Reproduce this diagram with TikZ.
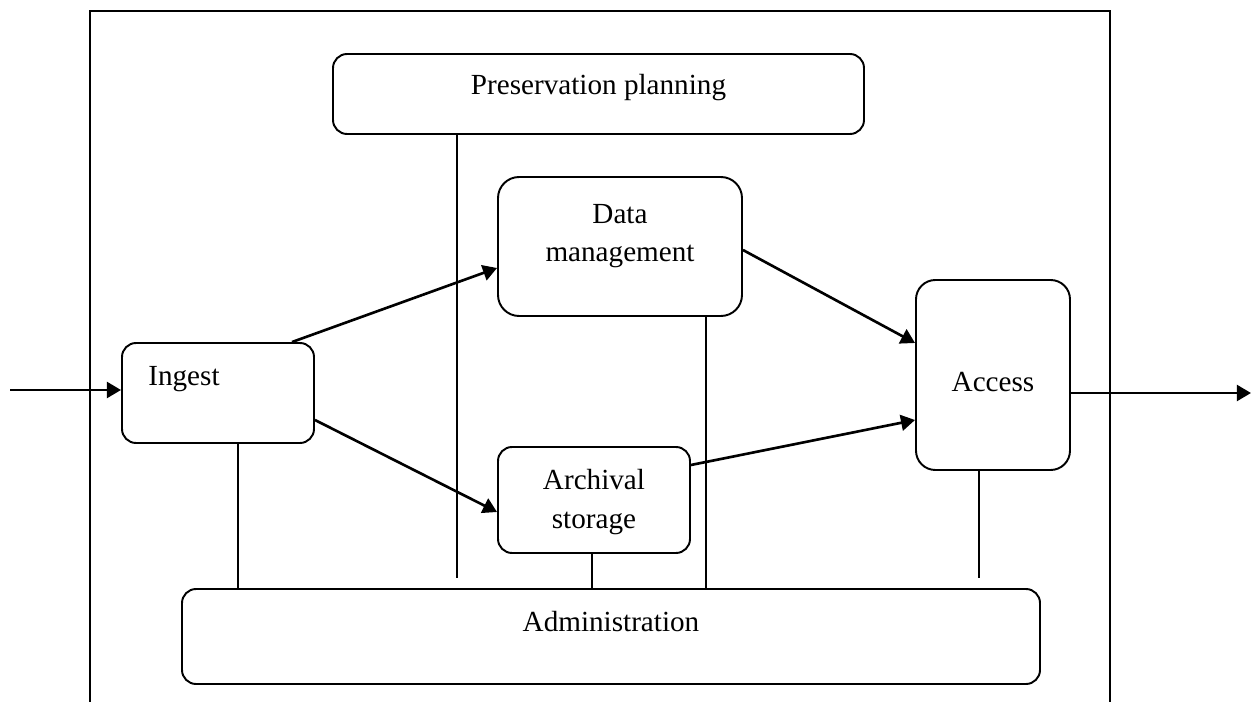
\documentclass[tikz,border=0pt]{standalone}
\usepackage{fontspec}
\setmainfont{Liberation Serif}
\usetikzlibrary{arrows.meta,positioning,calc}

\begin{document}
\begin{tikzpicture}[
    x=0.02cm,y=-0.02cm,
    box/.style  = {draw,line width=1.1pt,rounded corners=8pt,inner sep=0pt},
    txt/.style  = {font=\fontsize{16.6}{22}\selectfont,align=center,inner sep=0pt},
    flow/.style = {-{Triangle[length=8pt,width=9pt]},line width=1.5pt},
    link/.style = {line width=1.1pt},
  ]
  \useasboundingbox (0,0) rectangle (1251,702);

  % Cadre du systeme
  \draw[line width=1.2pt] (90,702) -- (90,11) -- (1110,11) -- (1110,702);

  % Entites fonctionnelles
  \node[box,minimum width=531*0.02cm,minimum height=80*0.02cm]  (pres)   at (598.5,94)  {};
  \node[box,minimum width=244*0.02cm,minimum height=139*0.02cm,rounded corners=12pt] (dm) at (620,246.5) {};
  \node[box,minimum width=192*0.02cm,minimum height=100*0.02cm] (ingest) at (218,393)   {};
  \node[box,minimum width=192*0.02cm,minimum height=106*0.02cm] (arch)   at (594,500)   {};
  \node[box,minimum width=154*0.02cm,minimum height=190*0.02cm,rounded corners=11pt] (access) at (993,375) {};
  \node[box,minimum width=858*0.02cm,minimum height=95*0.02cm]  (admin)  at (611,636.5) {};

  \node[txt,anchor=base]      (pres-t)   at (598.5,95) {Preservation planning};
  \node[txt]                  (dm-t)     at (620,236)  {Data\\management};
  \node[txt,anchor=base west] (ingest-t) at (148,386)  {Ingest};
  \node[txt]                  (arch-t)   at (594,502)  {Archival\\storage};
  \node[txt,anchor=base]      (access-t) at (993,392)  {Access};
  \node[txt,anchor=base]      (admin-t)  at (611,631)  {Administration};

  % Liens vers l'administration
  \coordinate (pres-end)   at (457,578);
  \coordinate (access-end) at (979,578);
  \draw[link] ($(ingest.south)+(20,0)$) coordinate (i1) -- (i1 |- admin.north);
  \draw[link] (pres.south -| pres-end) -- (pres-end);
  \draw[link] ($(arch.south)+(-2,0)$) coordinate (a1) -- (a1 |- admin.north);
  \draw[link] ($(dm.south)+(86,0)$) coordinate (d1) -- (d1 |- admin.north);
  \draw[link] (access.south -| access-end) -- (access-end);

  % Flux d'information
  \coordinate (in)  at (10,390);
  \coordinate (out) at (1251,393);
  \draw[flow] (in) -- (in -| ingest.west);
  \draw[flow] ($(ingest.north)+(74,0)$) -- ($(dm.west)+(0,21.5)$);
  \draw[flow] ($(ingest.east)+(0,27)$) -- ($(arch.west)+(0,12)$);
  \draw[flow] ($(dm.east)+(0,3.5)$) -- ($(access.west)+(0,-32)$);
  \draw[flow] ($(arch.east)+(0,-35)$) -- ($(access.west)+(0,45)$);
  \draw[flow] (out -| access.east) -- (out);

\end{tikzpicture}
\end{document}
